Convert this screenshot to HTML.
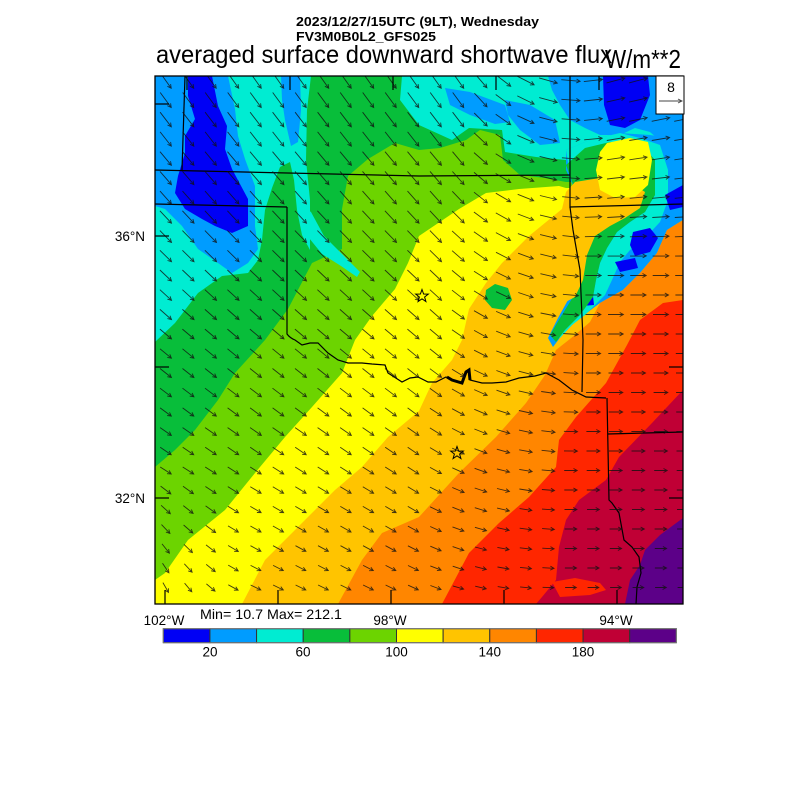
<!DOCTYPE html>
<html><head><meta charset="utf-8"><style>
html,body{margin:0;padding:0;background:#fff;}
svg{display:block;}
text{font-family:"Liberation Sans",Arial,sans-serif;fill:#000;}
</style></head><body>
<svg id="s" width="800" height="800" viewBox="0 0 800 800" xmlns="http://www.w3.org/2000/svg">
<rect width="800" height="800" fill="#fff"/>
<defs><clipPath id="pc"><rect x="155" y="76" width="528" height="528"/></clipPath></defs>

<text x="296" y="26" font-size="13" font-weight="bold" textLength="243" lengthAdjust="spacingAndGlyphs">2023/12/27/15UTC (9LT), Wednesday</text>
<text x="296" y="41" font-size="13" font-weight="bold" textLength="140" lengthAdjust="spacingAndGlyphs">FV3M0B0L2_GFS025</text>
<text x="156" y="63" font-size="25" textLength="456" lengthAdjust="spacingAndGlyphs">averaged surface downward shortwave flux</text>
<text x="605" y="68" font-size="26" textLength="76" lengthAdjust="spacingAndGlyphs">W/m**2</text>

<g clip-path="url(#pc)">
<rect x="155" y="76" width="528" height="528" fill="#00ecd2"/>
<!-- NW light blue / blue -->
<polygon fill="#009cff" points="155,76 228,76 235,109 238,136 245,159 255,186 255,226 258,249 248,263 232,273 218,263 198,249 182,226 165,209 155,206"/>
<polygon fill="#009cff" points="281,76 300,76 301,110 298,142 291,146 285,120 282,100"/>
<polygon fill="#009cff" points="548,76 683,76 683,150 665,145 650,132 635,128 620,135 600,135 585,128 570,120 560,105 552,90"/>
<polygon fill="#009cff" points="445,88 470,92 505,105 510,122 495,124 470,115 450,105"/>
<polygon fill="#009cff" points="505,100 530,105 555,120 560,143 540,145 520,130 508,115"/>
<polygon fill="#0000f5" points="188,76 212,76 218,106 227,126 225,149 232,169 248,199 248,226 232,233 215,226 202,219 185,209 175,193 178,176 185,153 185,136 195,119 188,96"/>
<polygon fill="#0000f5" points="603,76 648,76 650,95 640,120 625,128 610,125 604,105"/>
<!-- bands -->
<polygon fill="#08be3a" points="155,342 175,323 198,293 222,276 248,273 258,260 262,240 265,210 272,188 280,167 290,162 294,180 297,210 302,235 310,250 310,200 306,160 307,110 311,76 402,76 400,100 419,125 452,140 469,128 502,130 505,152 536,157 566,160 683,160 683,604 155,604"/>
<polygon fill="#6cd400" points="155,467 175,450 195,430 218,400 235,373 265,340 288,309 312,263 342,249 342,209 348,176 368,159 395,143 419,150 440,148 466,140 480,130 500,135 503,160 520,175 545,178 566,182 683,182 683,604 155,604"/>
<polygon fill="#00ecd2" points="305,208 311,212 324,236 343,255 360,272 357,277 341,266 322,254 309,238"/>
<polygon fill="#ffff00" points="155,580 165,573 188,540 225,510 255,473 285,437 312,407 342,373 355,340 372,316 395,289 408,263 419,236 459,209 486,193 519,189 559,186 566,188 683,188 683,604 155,604"/>
<polygon fill="#ffc400" points="242,604 265,560 298,527 335,490 362,467 388,437 419,411 432,383 452,360 462,340 469,309 486,283 502,263 529,236 562,209 575,200 683,200 683,604"/>
<polygon fill="#08be3a" points="486,290 495,284 508,288 512,300 505,310 492,308 485,300"/>
<!-- NE complex -->
<polygon fill="#009cff" points="566,150 590,140 620,133 650,135 683,140 683,220 667,230 657,253 640,273 623,290 600,303 588,312 575,322 562,335 553,347 548,338 558,318 568,300 578,285 583,265 585,240 583,215 575,190 566,170"/>
<polygon fill="#00ecd2" points="566,150 590,140 620,133 640,138 660,145 668,170 668,200 660,222 645,238 630,250 620,262 612,280 605,295 595,305 585,315 572,325 560,338 555,335 565,320 580,305 593,297 596,280 600,263 607,248 617,232 630,222 645,212 655,195 655,160 620,150 585,160 570,175"/>
<polygon fill="#0000f5" points="665,195 683,185 683,207 670,210"/>
<polygon fill="#0000f5" points="633,232 650,228 658,238 650,252 635,256 630,245"/>
<polygon fill="#0000f5" points="615,262 635,258 638,268 620,272"/>
<polygon fill="#0000f5" points="580,297 593,296 594,305 582,306"/>
<polygon fill="#08be3a" points="566,165 585,148 610,142 640,143 655,160 655,195 645,212 630,222 617,232 607,248 600,263 596,280 593,297 580,315 565,330 556,342 550,335 560,318 573,297 583,265 585,240 583,215 575,190"/>
<polygon fill="#ffc400" points="562,209 566,192 575,182 600,178 630,182 645,192 640,208 625,218 610,226 595,236 587,255 583,280 575,297 560,305 550,300 555,250"/>
<polygon fill="#ffff00" points="607,143 630,138 648,142 652,160 648,185 635,197 615,198 600,190 596,170 600,152"/>
<!-- SE bands -->
<polygon fill="#ff8600" points="338,604 362,560 382,533 419,517 459,473 496,437 526,403 545,375 556,350 575,335 590,322 600,303 623,290 640,273 657,253 667,230 683,220 683,604"/>
<polygon fill="#ff2600" points="442,604 469,553 499,523 529,497 556,467 559,440 576,417 606,383 627,345 640,320 663,303 683,300 683,604"/>
<polygon fill="#c00035" points="536,604 542,597 556,580 559,547 566,520 579,500 606,480 619,457 652,423 683,390 683,604"/>
<polygon fill="#ff2600" points="552,582 575,578 600,583 606,590 590,595 560,597"/>
<polygon fill="#5c0088" points="683,518 660,535 645,550 640,565 630,580 625,604 683,604"/>

<!-- state lines -->
<g fill="none" stroke="#000" stroke-width="1.2">
<path d="M155,170 L419,176 L570,175"/>
<path d="M570,76 L570,207 L683,204"/>
<path d="M570,207 L573,230 L580,270 L583,340 L582,392"/>
<path d="M185,76 L182,170"/>
<path d="M155,204 L287,207"/>
<path d="M287,207 L287,334 Q290,338 295,340 L302,345 L310,343 L318,343 L328,353 L338,360 L348,363 L362,363 L372,364 L385,365 L388,373 L402,382 L410,378 L418,377 L428,382 L436,382 L446,377 L452,380 L462,383 L466,372 L469,370 L470,380 L482,383 L492,383 L506,382 L519,378 L535,376 L546,373 L559,380 L572,390 L586,397 L606,398"/>
<path d="M607,398 L609,500 L612,503 L619,513 L624,540 L632,547 L639,557 L641,573 L637,587 L636,604"/>
<path d="M608,434 L683,432"/>
<path d="M447,377 L452,380 L462,383 L466,372 L469,370 L470,380" stroke-width="3"/>
</g>
<g id="arrows" fill="none" stroke="#111" stroke-opacity="0.8" stroke-width="0.9"></g>
<!-- stars -->
<g fill="none" stroke="#000" stroke-width="1">
<polygon points="422,289.5 423.6,294 428.3,294.1 424.6,297 425.9,301.5 422,298.8 418.1,301.5 419.4,297 415.7,294.1 420.4,294"/>
<polygon points="457,446.5 458.6,451 463.3,451.1 459.6,454 460.9,458.5 457,455.8 453.1,458.5 454.4,454 450.7,451.1 455.4,451"/>
</g>
</g>

<!-- ticks -->
<g stroke="#000" stroke-width="1.2">
<line x1="155" y1="104" x2="169" y2="104"/>
<line x1="155" y1="236" x2="169" y2="236"/>
<line x1="155" y1="367" x2="169" y2="367"/>
<line x1="155" y1="498" x2="169" y2="498"/>
<line x1="669" y1="367" x2="683" y2="367"/>
<line x1="669" y1="498" x2="683" y2="498"/>
<line x1="165" y1="604" x2="165" y2="590"/>
<line x1="278" y1="604" x2="278" y2="590"/>
<line x1="391" y1="604" x2="391" y2="590"/>
<line x1="504" y1="604" x2="504" y2="590"/>
<line x1="617" y1="604" x2="617" y2="590"/>
<line x1="187" y1="76" x2="187" y2="90"/>
<line x1="290" y1="76" x2="290" y2="90"/>
<line x1="393" y1="76" x2="393" y2="90"/>
<line x1="496" y1="76" x2="496" y2="90"/>
<line x1="599" y1="76" x2="599" y2="90"/>
</g>
<rect x="155" y="76" width="528" height="528" fill="none" stroke="#000" stroke-width="1.3"/>

<!-- vector legend -->
<rect x="656" y="76" width="28" height="38" fill="#fff" stroke="#000" stroke-width="1"/>
<text x="671" y="92" font-size="14" text-anchor="middle">8</text>
<g stroke="#444" stroke-width="0.9" fill="none"><line x1="659" y1="101" x2="682" y2="101"/><path d="M678,99 L682,101 L678,103"/></g>

<!-- axis labels -->
<text x="145" y="241" font-size="13.5" text-anchor="end">36°N</text>
<text x="145" y="503" font-size="13.5" text-anchor="end">32°N</text>
<text x="164" y="625" font-size="13.5" text-anchor="middle">102°W</text>
<text x="390" y="625" font-size="13.5" text-anchor="middle">98°W</text>
<text x="616" y="625" font-size="13.5" text-anchor="middle">94°W</text>
<text x="200" y="619" font-size="14" textLength="142" lengthAdjust="spacingAndGlyphs">Min= 10.7 Max= 212.1</text>

<!-- colorbar -->
<g stroke="#333" stroke-width="1">
<rect x="163.3" y="628.7" width="46.64" height="14" fill="#0000f5"/>
<rect x="209.94" y="628.7" width="46.64" height="14" fill="#009cff"/>
<rect x="256.58" y="628.7" width="46.64" height="14" fill="#00ecd2"/>
<rect x="303.22" y="628.7" width="46.64" height="14" fill="#08be3a"/>
<rect x="349.86" y="628.7" width="46.64" height="14" fill="#6cd400"/>
<rect x="396.5" y="628.7" width="46.64" height="14" fill="#ffff00"/>
<rect x="443.14" y="628.7" width="46.64" height="14" fill="#ffc400"/>
<rect x="489.78" y="628.7" width="46.64" height="14" fill="#ff8600"/>
<rect x="536.42" y="628.7" width="46.64" height="14" fill="#ff2600"/>
<rect x="583.06" y="628.7" width="46.64" height="14" fill="#c00035"/>
<rect x="629.7" y="628.7" width="46.64" height="14" fill="#5c0088"/>
</g>
<rect x="163.3" y="628.7" width="513" height="14" fill="none" stroke="#777" stroke-width="1"/>
<g font-size="13.5" text-anchor="middle">
<text x="210" y="656.5">20</text>
<text x="303" y="656.5">60</text>
<text x="396.5" y="656.5">100</text>
<text x="489.8" y="656.5">140</text>
<text x="583" y="656.5">180</text>
</g>
</svg>
<script>
(function(){
  var g=document.getElementById('arrows');
  var NS='http://www.w3.org/2000/svg';
  var d='';
  function theta(x,y){
    var v=(y-76)/528;
    var t0=55-30*v;
    var xa=470-70*v, xb=610-50*v;
    var s=Math.min(1,Math.max(0,(x-xa)/(xb-xa)));
    var tE=v<0.35?-15*(1-v/0.35):0;
    var th=t0*(1-s)+tE*s;
    if(x<240&&y>470){th+=(1-(x-155)/85)*((y-470)/134)*45;}
    return th;
  }
  for(var j=0;j<27;j++){
    var y=80.5+19.5*j;
    for(var i=0;i<24;i++){
      var x=165.7+22.5*i;
      if(x>654&&y<116)continue;
      var v=(y-76)/528;
      var L=11+8*(1-v);
      var th=theta(x,y)*Math.PI/180;
      var c=Math.cos(th), sn=Math.sin(th);
      var x1=x-L/2*c, y1=y-L/2*sn, x2=x+L/2*c, y2=y+L/2*sn;
      var a=28*Math.PI/180, h=4.2;
      var b1=th+Math.PI-a, b2=th+Math.PI+a;
      d+='M'+x1.toFixed(1)+','+y1.toFixed(1)+'L'+x2.toFixed(1)+','+y2.toFixed(1)+
         'M'+(x2+h*Math.cos(b1)).toFixed(1)+','+(y2+h*Math.sin(b1)).toFixed(1)+'L'+x2.toFixed(1)+','+y2.toFixed(1)+
         'L'+(x2+h*Math.cos(b2)).toFixed(1)+','+(y2+h*Math.sin(b2)).toFixed(1);
    }
  }
  var p=document.createElementNS(NS,'path');
  p.setAttribute('d',d);
  g.appendChild(p);
})();
</script>
</body></html>
